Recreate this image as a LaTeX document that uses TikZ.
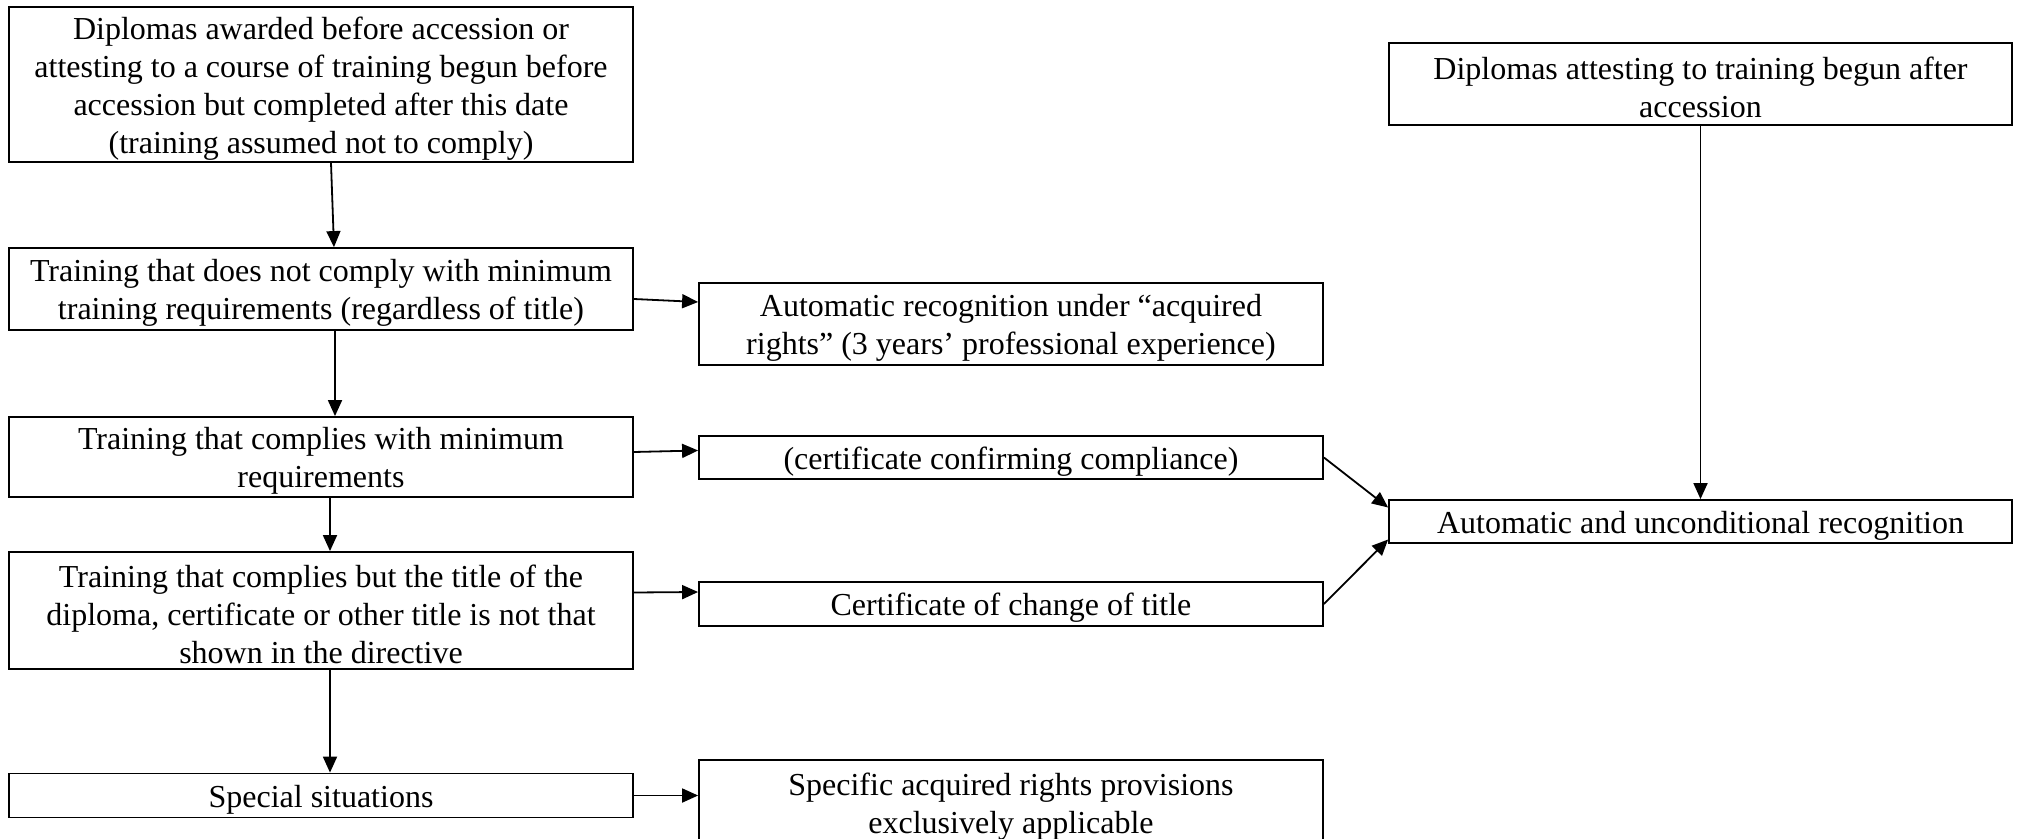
\documentclass[tikz,border=0pt]{standalone}
\usepackage{fontspec}
\setmainfont{Liberation Serif}
\usetikzlibrary{arrows.meta}
\newcommand{\topstrut}{\rule{0pt}{15pt}}
\begin{document}
\begin{tikzpicture}[x=0.5pt,y=-0.5pt,
  box/.style={draw,line width=0.9pt,align=center,inner sep=0pt,minimum width=312pt,font=\fontsize{16}{19}\selectfont},
  arr/.style={line width=0.9pt,-{Triangle[length=8pt,width=7pt]}}]
\useasboundingbox (0,0) rectangle (2022,839);
\node[box,minimum height=77.5pt] (before) at (321,84.5) {\topstrut Diplomas awarded before accession or\\attesting to a course of training begun before\\accession but completed after this date\\(training assumed not to comply)};
\node[box,minimum height=41pt] (nocomply) at (321,289) {\topstrut Training that does not comply with minimum\\training requirements (regardless of title)};
\node[box,minimum height=40pt] (comply) at (321,457) {\topstrut Training that complies with minimum\\requirements};
\node[box,minimum height=58.5pt] (title) at (321,610.5) {\topstrut Training that complies but the title of the\\diploma, certificate or other title is not that\\shown in the directive};
\node[box,minimum height=22pt] (special) at (321,795.5) {\topstrut Special situations};
\node[box,minimum height=41pt] (acquired) at (1011,324) {\topstrut Automatic recognition under “acquired\\rights” (3 years’ professional experience)};
\node[box,minimum height=21.5pt] (cert) at (1011,457.5) {\topstrut (certificate confirming compliance)};
\node[box,minimum height=22pt] (change) at (1011,604) {\topstrut Certificate of change of title};
\node[box,minimum height=42.5pt] (specific) at (1011,802.5) {\topstrut Specific acquired rights provisions\\exclusively applicable};
\node[box,minimum height=41pt,minimum width=311.5pt] (after) at (1700.5,84) {\topstrut Diplomas attesting to training begun after\\accession};
\node[box,minimum height=21.5pt,minimum width=311.5pt] (auto) at (1700.5,521.5) {\topstrut Automatic and unconditional recognition};
\draw[arr] ([xshift=5pt]before.south) -- ([xshift=6.5pt]nocomply.north);
\draw[arr] ([xshift=7pt]nocomply.south) -- ([xshift=7pt]comply.north);
\draw[arr] ([xshift=4.5pt]comply.south) -- ([xshift=4.5pt]title.north);
\draw[arr] ([xshift=4.5pt]title.south) -- ([xshift=4.5pt]special.north);
\draw[arr] ([yshift=-5pt]nocomply.east) -- ([yshift=11pt]acquired.west);
\draw[arr] ([yshift=2.5pt]comply.east) -- ([yshift=3.5pt]cert.west);
\draw[arr] ([yshift=9pt]title.east) -- ([yshift=6pt]change.west);
\draw[arr] (special.east) -- (special.east -| specific.west);
\draw[arr] (cert.east) -- ([yshift=7pt]auto.west);
\draw[arr] (change.east) -- ([yshift=-9pt]auto.west);
\draw[arr] (after.south) -- (auto.north);
\end{tikzpicture}
\end{document}
